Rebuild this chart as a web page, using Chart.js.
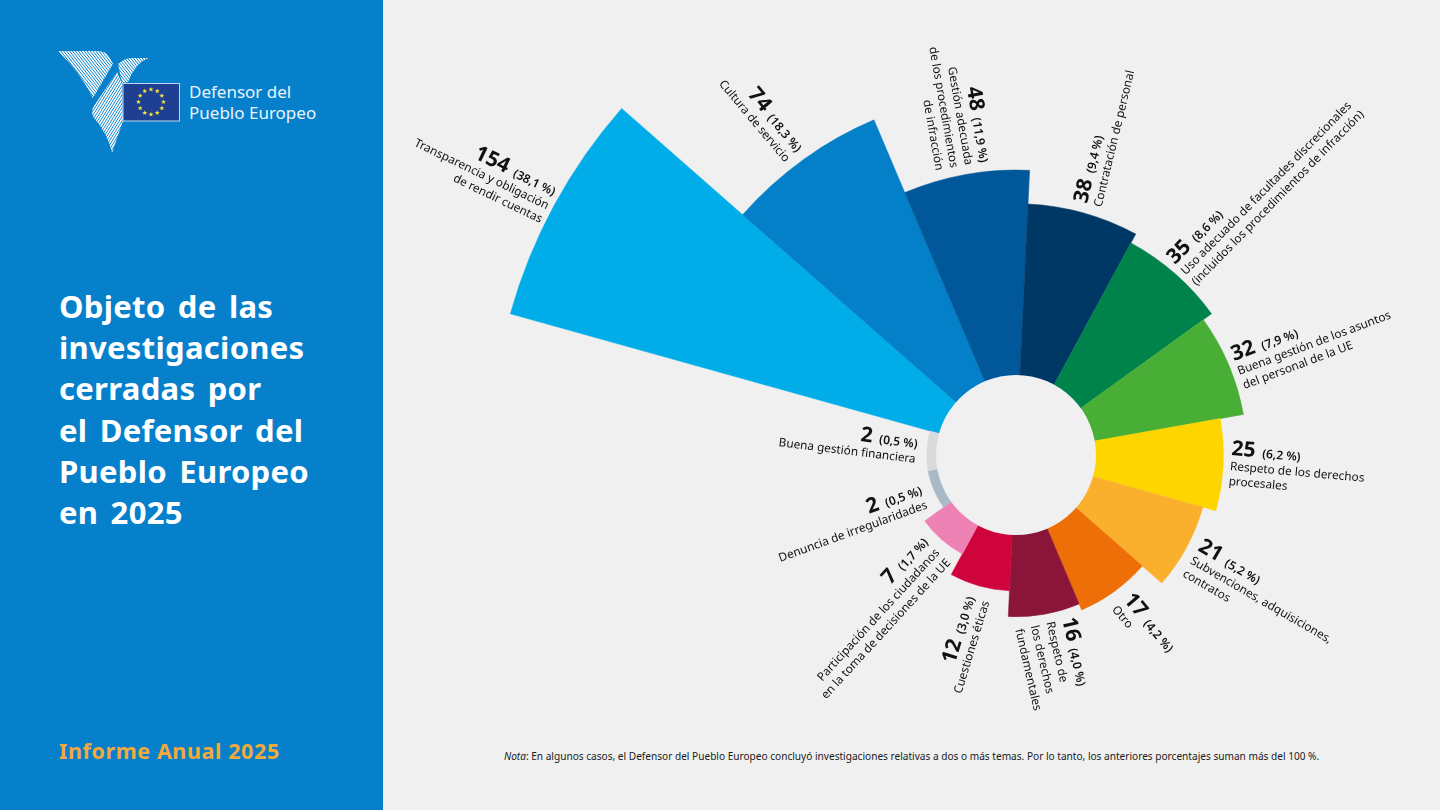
<!DOCTYPE html>
<html lang="es">
<head>
<meta charset="utf-8">
<title>Objeto de las investigaciones cerradas</title>
<script src="https://cdn.jsdelivr.net/npm/chart.js@4/dist/chart.umd.js"></script>
<style>
    html, body { margin: 0; padding: 0; width: 1440px; height: 810px; overflow: hidden; background: #f0f0f0; font-family: "Noto Sans", sans-serif; }
    #sidebar { position: absolute; left: 0; top: 0; width: 383px; height: 810px; background: #0680cb; color: #fff; }
    #logo { position: absolute; left: 0; top: 0; }
    #logo-text { position: absolute; left: 189px; top: 81px; font-size: 17px; line-height: 21px; color: #eaf4fb; white-space: nowrap; }
    #title { position: absolute; left: 59px; top: 286px; margin: 0; font-size: 31px; line-height: 41.2px; font-weight: 700; letter-spacing: 0.3px; word-spacing: 4px; white-space: nowrap; }
    #report { position: absolute; left: 59px; top: 737px; font-size: 21.5px; line-height: 28px; font-weight: 700; letter-spacing: 0.6px; color: #f2a93b; white-space: nowrap; }
    #note { position: absolute; left: 504px; top: 748px; font-size: 10.1px; line-height: 16px; color: #1a1a1a; white-space: nowrap; }
    #chart { position: absolute; left: 0; top: 0; }
</style>
</head>
<body>
<div id="sidebar">
    <svg id="logo" width="383" height="170" xmlns="http://www.w3.org/2000/svg">
        <defs>
            <pattern id="stripesA" width="2.3" height="2.3" patternUnits="userSpaceOnUse" patternTransform="rotate(52)">
                <rect width="2.3" height="1.5" fill="#fff"></rect>
            </pattern>
            <pattern id="stripesB" width="2.3" height="2.3" patternUnits="userSpaceOnUse" patternTransform="rotate(-58)">
                <rect width="2.3" height="1.5" fill="#fff"></rect>
            </pattern>
        </defs>
        <path d="M58 51 L98 51 Q106 51 110 58 L113 64 L100 86 L93 98 Q80 72 58 51 Z" fill="url(#stripesA)"></path>
        <path d="M117 72 L122 83 L123 121 L112 153 Q108 134 94 118 Q90 112 94 106 Z" fill="url(#stripesB)"></path>
        <path d="M118 64 Q124 58 132 58 L149 58 Q136 62 128 82 L122 83 Z" fill="url(#stripesA)"></path>
        <rect x="123" y="83.5" width="56.5" height="37.5" fill="#1f3f93" stroke="#bcd9ef" stroke-width="1"></rect>
        <g id="stars" fill="#f2e23a"></g>
    </svg>
    <div id="logo-text">Defensor del<br>Pueblo Europeo</div>
    <h1 id="title">Objeto de las<br>investigaciones<br>cerradas por<br>el Defensor del<br>Pueblo Europeo<br>en 2025</h1>
    <div id="report">Informe Anual 2025</div>
</div>
<div id="note"><i>Nota</i>: En algunos casos, el Defensor del Pueblo Europeo concluyó investigaciones relativas a dos o más temas. Por lo tanto, los anteriores porcentajes suman más del 100 %.</div>
<canvas id="chart" width="1440" height="810"></canvas>

<script>
// Chart data
const categories = [
    'Transparencia y obligación de rendir cuentas',
    'Cultura de servicio',
    'Gestión adecuada de los procedimientos de infracción',
    'Contratación de personal',
    'Uso adecuado de facultades discrecionales (incluidos los procedimientos de infracción)',
    'Buena gestión de los asuntos del personal de la UE',
    'Respeto de los derechos procesales',
    'Subvenciones, adquisiciones, contratos',
    'Otro',
    'Respeto de los derechos fundamentales',
    'Cuestiones éticas',
    'Participación de los ciudadanos en la toma de decisiones de la UE',
    'Denuncia de irregularidades',
    'Buena gestión financiera'
];
const values = [154, 74, 48, 38, 35, 32, 25, 21, 17, 16, 12, 7, 2, 2];
const shares = ['38,1 %', '18,3 %', '11,9 %', '9,4 %', '8,6 %', '7,9 %', '6,2 %', '5,2 %', '4,2 %', '4,0 %', '3,0 %', '1,7 %', '0,5 %', '0,5 %'];
const categoryLines = [
    ['Transparencia y obligación', 'de rendir cuentas'],
    ['Cultura de servicio'],
    ['Gestión adecuada', 'de los procedimientos', 'de infracción'],
    ['Contratación de personal'],
    ['Uso adecuado de facultades discrecionales', '(incluidos los procedimientos de infracción)'],
    ['Buena gestión de los asuntos', 'del personal de la UE'],
    ['Respeto de los derechos', 'procesales'],
    ['Subvenciones, adquisiciones,', 'contratos'],
    ['Otro'],
    ['Respeto de', 'los derechos', 'fundamentales'],
    ['Cuestiones éticas'],
    ['Participación de los ciudadanos', 'en la toma de decisiones de la UE'],
    ['Denuncia de irregularidades'],
    ['Buena gestión financiera']
];
const colors = ['#00ade9', '#0480c8', '#00589b', '#003865', '#00834b', '#48ae36', '#ffd500', '#fbb02d', '#ee6f08', '#8a1538', '#d0043c', '#ee82b5', '#a9b9c5', '#d9dadb'];

// Label placement, page pixels: anchor of the number line, rotation in degrees
const labelPlacement = [
    { x: 553, y: 196, rot: 25.7, align: 'end', gap: 15 },
    { x: 796, y: 153, rot: 50, align: 'end', gap: 15 },
    { x: 980, y: 163, rot: 80, align: 'end', gap: 15 },
    { x: 1087, y: 204, rot: -76.5, align: 'start', gap: 15 },
    { x: 1175, y: 265, rot: -45.5, align: 'start', gap: 15 },
    { x: 1234, y: 361, rot: -20.5, align: 'start', gap: 15 },
    { x: 1231, y: 455, rot: 5, align: 'start', gap: 15 },
    { x: 1197, y: 550, rot: 30, align: 'start', gap: 15 },
    { x: 1123, y: 600, rot: 50, align: 'start', gap: 15 },
    { x: 1062, y: 619, rot: 77, align: 'start', gap: 16 },
    { x: 975, y: 598, rot: -73, align: 'end', gap: 15 },
    { x: 929, y: 543, rot: -47.5, align: 'end', gap: 15 },
    { x: 923, y: 494, rot: -20, align: 'end', gap: 15 },
    { x: 917, y: 448, rot: 7, align: 'end', gap: 15 }
];

// The wedges do not grow linearly with the value, so the radial axis is piecewise linear
const radiusDomain = [0, 12, 21, 48, 74, 154];
const radiusRange = [80, 136, 194, 285, 364, 525];

class StretchedRadialScale extends Chart.RadialLinearScale {
    getDistanceFromCenterForValue(value) {
        let i = 1;
        while (i < radiusDomain.length - 1 && value > radiusDomain[i]) i++;
        const t = (value - radiusDomain[i - 1]) / (radiusDomain[i] - radiusDomain[i - 1]);
        return radiusRange[i - 1] + t * (radiusRange[i] - radiusRange[i - 1]);
    }
}
StretchedRadialScale.id = 'stretchedRadial';
StretchedRadialScale.defaults = Chart.RadialLinearScale.defaults;
Chart.register(StretchedRadialScale);

// Empty centre of the ring
const centerHole = {
    id: 'centerHole',
    afterDatasetsDraw(chart) {
        const scale = chart.scales.r;
        const ctx = chart.ctx;
        ctx.save();
        ctx.fillStyle = '#f0f0f0';
        ctx.beginPath();
        ctx.arc(scale.xCenter, scale.yCenter, scale.getDistanceFromCenterForValue(0), 0, Math.PI * 2);
        ctx.fill();
        ctx.restore();
    }
};

// Number, share and category text next to each wedge
const wedgeLabels = {
    id: 'wedgeLabels',
    afterDraw(chart) {
        const ctx = chart.ctx;
        const family = '"Noto Sans", sans-serif';
        values.forEach((value, i) => {
            const place = labelPlacement[i];
            const numText = String(value);
            const pctText = '(' + shares[i] + ')';
            ctx.save();
            ctx.translate(place.x, place.y);
            ctx.rotate(place.rot * Math.PI / 180);
            ctx.fillStyle = '#111';
            ctx.textBaseline = 'alphabetic';
            ctx.textAlign = 'left';

            ctx.font = 'bold 21px ' + family;
            const numWidth = ctx.measureText(numText).width;
            ctx.font = '600 12px ' + family;
            const pctWidth = ctx.measureText(pctText).width;
            const total = numWidth + 7 + pctWidth;
            const startX = place.align === 'end' ? -total : 0;

            ctx.font = 'bold 21px ' + family;
            ctx.fillText(numText, startX, 0);
            ctx.font = '600 12px ' + family;
            ctx.fillText(pctText, startX + numWidth + 7, 0);

            ctx.font = '11.8px ' + family;
            ctx.textAlign = place.align === 'end' ? 'right' : 'left';
            categoryLines[i].forEach((line, n) => {
                ctx.fillText(line, 0, place.gap * (n + 1));
            });
            ctx.restore();
        });
    }
};

document.addEventListener('DOMContentLoaded', function() {
    // Stars of the flag in the logo
    const stars = document.getElementById('stars');
    for (let s = 0; s < 12; s++) {
        const a = s * Math.PI / 6;
        const cx = 151 + 12.5 * Math.sin(a);
        const cy = 102 - 12.5 * Math.cos(a);
        const pts = [];
        for (let p = 0; p < 10; p++) {
            const r = p % 2 ? 1.1 : 2.6;
            const b = p * Math.PI / 5;
            pts.push((cx + r * Math.sin(b)).toFixed(2) + ',' + (cy - r * Math.cos(b)).toFixed(2));
        }
        const star = document.createElementNS('http://www.w3.org/2000/svg', 'polygon');
        star.setAttribute('points', pts.join(' '));
        stars.appendChild(star);
    }

    new Chart(document.getElementById('chart').getContext('2d'), {
        type: 'polarArea',
        data: {
            labels: categories,
            datasets: [{
                data: values,
                backgroundColor: colors,
                borderColor: colors,
                borderWidth: 0.5,
                clip: false
            }]
        },
        plugins: [centerHole, wedgeLabels],
        options: {
            responsive: false,
            animation: false,
            devicePixelRatio: 1,
            layout: { padding: { left: 592, top: 100, right: 0, bottom: 0 } },
            plugins: {
                legend: { display: false },
                tooltip: { enabled: false }
            },
            scales: {
                r: {
                    type: 'stretchedRadial',
                    display: false,
                    startAngle: -74.4,
                    min: 0,
                    max: 154,
                    ticks: { display: false },
                    grid: { display: false }
                }
            }
        }
    });
});
</script>
</body>
</html>
